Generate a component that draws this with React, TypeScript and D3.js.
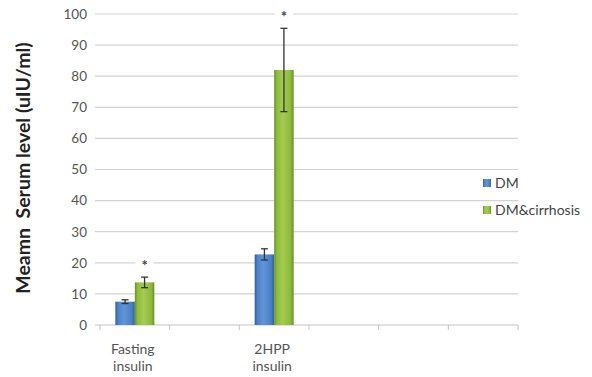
import React from "react";
import * as d3 from "d3";

// Category slots along the x axis (empty slots keep their tick spacing)
const categoryLabels: string[][] = [
  ["Fasting", "insulin"],
  [],
  ["2HPP", "insulin"],
  [],
  [],
  [],
];

// Mean serum levels per slot (null = no data)
const dmMeans: (number | null)[] = [7.5, null, 22.7, null, null, null];
const dmErrors: (number | null)[] = [0.6, null, 1.8, null, null, null];
const cirrhosisMeans: (number | null)[] = [13.7, null, 82, null, null, null];
const cirrhosisErrors: (number | null)[] = [1.7, null, 13.4, null, null, null];
const significant: boolean[] = [true, false, true, false, false, false];

const yTicks: number[] = [0, 10, 20, 30, 40, 50, 60, 70, 80, 90, 100];
const seriesNames: string[] = ["DM", "DM&cirrhosis"];

const W = 592;
const H = 377;
const FONT = "Lato, 'Open Sans', sans-serif";

export default function App() {
  const x = d3
    .scaleBand<number>()
    .domain(categoryLabels.map((_, i) => i))
    .range([100, 518])
    .paddingInner(0)
    .paddingOuter(0);
  const y = d3.scaleLinear().domain([0, 100]).range([325, 14]);

  const barW = 19.5;
  const series = [
    { means: dmMeans, errs: dmErrors, grad: "gBlue", offset: -barW },
    { means: cirrhosisMeans, errs: cirrhosisErrors, grad: "gGreen", offset: 0 },
  ];

  return (
    <svg
      width={W}
      height={H}
      style={{ position: "absolute", left: 0, top: 0, background: "#fff" }}
      fontFamily={FONT}
    >
      <defs>
        <linearGradient id="gBlue" x1="0" x2="1" y1="0" y2="0">
          <stop offset="0" stopColor="#2f5e9c" />
          <stop offset="0.15" stopColor="#4d84c8" />
          <stop offset="0.45" stopColor="#5f95d8" />
          <stop offset="0.85" stopColor="#4a7ec2" />
          <stop offset="1" stopColor="#2f5e9c" />
        </linearGradient>
        <linearGradient id="gGreen" x1="0" x2="1" y1="0" y2="0">
          <stop offset="0" stopColor="#6a9228" />
          <stop offset="0.15" stopColor="#8fbc3e" />
          <stop offset="0.45" stopColor="#a4cc52" />
          <stop offset="0.85" stopColor="#8cb83a" />
          <stop offset="1" stopColor="#678f26" />
        </linearGradient>
      </defs>

      {/* horizontal gridlines */}
      {yTicks.map((t) => (
        <line
          key={"g" + t}
          x1={95}
          x2={518}
          y1={y(t)}
          y2={y(t)}
          stroke={t === 0 ? "#c4c4c4" : "#d3d3d3"}
          strokeWidth={1.2}
        />
      ))}

      {/* y tick labels */}
      {yTicks.map((t) => (
        <text
          key={"yl" + t}
          x={87}
          y={y(t) + 4.8}
          textAnchor="end"
          fontSize={13.5}
          fill="#555"
        >
          {t}
        </text>
      ))}

      {/* x tick marks */}
      {categoryLabels.map((_, i) => (
        <line
          key={"xt" + i}
          x1={x(i)!}
          x2={x(i)!}
          y1={325}
          y2={330}
          stroke="#c4c4c4"
          strokeWidth={1}
        />
      ))}
      <line x1={518} x2={518} y1={325} y2={330} stroke="#c4c4c4" strokeWidth={1} />

      {/* x category labels */}
      {categoryLabels.map((lines, i) =>
        lines.map((ln, j) => (
          <text
            key={"xl" + i + j}
            x={x(i)! + x.bandwidth() / 2 - 2}
            y={354 + j * 17}
            textAnchor="middle"
            fontSize={14}
            fill="#555"
          >
            {ln}
          </text>
        ))
      )}

      {/* bars */}
      {series.map((s, si) =>
        s.means.map((m, i) =>
          m == null ? null : (
            <rect
              key={"b" + si + i}
              x={x(i)! + x.bandwidth() / 2 + s.offset}
              y={y(m)}
              width={barW}
              height={y(0) - y(m)}
              fill={`url(#${s.grad})`}
            />
          )
        )
      )}

      {/* error bars */}
      {series.map((s, si) =>
        s.means.map((m, i) => {
          const e = s.errs[i];
          if (m == null || e == null) return null;
          const cx = x(i)! + x.bandwidth() / 2 + s.offset + barW / 2;
          return (
            <g key={"e" + si + i} stroke="#333" strokeWidth={1.3}>
              <line x1={cx} x2={cx} y1={y(m + e)} y2={y(m - e)} />
              <line x1={cx - 3.5} x2={cx + 3.5} y1={y(m + e)} y2={y(m + e)} />
              <line x1={cx - 3.5} x2={cx + 3.5} y1={y(m - e)} y2={y(m - e)} />
            </g>
          );
        })
      )}

      {/* significance markers */}
      {significant.map((sig, i) => {
        const m = cirrhosisMeans[i];
        const e = cirrhosisErrors[i];
        if (!sig || m == null || e == null) return null;
        const cx = x(i)! + x.bandwidth() / 2 + barW / 2;
        const cy = y(m + e) - 14;
        return (
          <g key={"s" + i}>
            <rect x={cx - 9} y={cy - 5} width={18} height={10} fill="#fff" />
            <text
              x={cx}
              y={cy + 8}
              textAnchor="middle"
              fontSize={15}
              fontWeight="bold"
              fill="#444"
            >
              *
            </text>
          </g>
        );
      })}

      {/* y axis title */}
      <text
        transform={`translate(30,168) rotate(-90)`}
        textAnchor="middle"
        fontSize={19.5}
        fontWeight="bold"
        fill="#222"
        style={{ whiteSpace: "pre" }}
      >
        {"Meamn  Serum level (uIU/ml)"}
      </text>

      {/* legend */}
      {seriesNames.map((name, i) => (
        <g key={"lg" + i} transform={`translate(483,${183 + i * 27})`}>
          <rect x={0} y={-4} width={8} height={8} fill={`url(#${series[i].grad})`} />
          <text x={12} y={5} fontSize={14} fill="#444">
            {name}
          </text>
        </g>
      ))}
    </svg>
  );
}
